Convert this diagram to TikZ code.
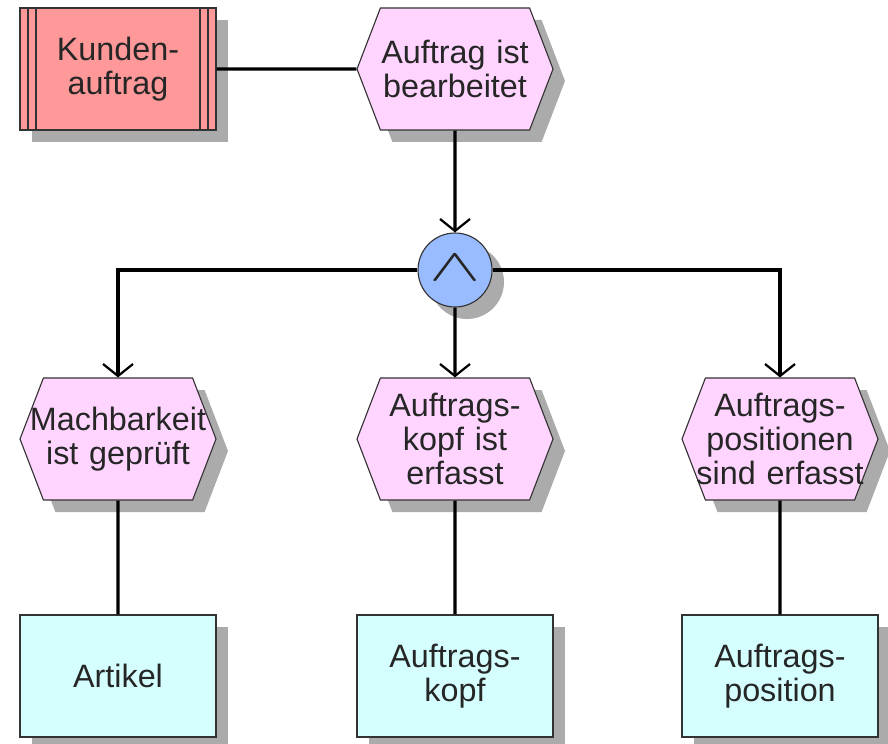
\documentclass[tikz,border=0pt]{standalone}
\usepackage{fontspec}
\setmainfont{Liberation Sans}
\usetikzlibrary{arrows.meta,shapes.symbols,shadows}

\definecolor{orderred}{HTML}{FF9999}
\definecolor{eventpink}{HTML}{FFD5FF}
\definecolor{andblue}{HTML}{99BBFF}
\definecolor{objcyan}{HTML}{D5FFFF}

\begin{document}
\begin{tikzpicture}[
        eshadow/.style={
            drop shadow={shadow xshift=0.3cm, shadow yshift=-0.3cm,
                fill=black!33, opacity=1}
        },
        event/.style={
            signal,
            signal to=west and east,
            signal pointer angle=138,
            draw=black!80,
            line width=0.8pt,
            fill=eventpink,
            minimum width=4.9cm,
            minimum height=3.05cm,
            inner sep=0pt,
            text width=3.7cm,
            align=center,
            % long lines may run into the pointers, as in the original
            execute at begin node={\leftskip=-0.6cm plus 1fil\rightskip=-0.6cm plus 1fil},
            text=black!85,
            font=\fontsize{23}{24.5}\selectfont,
            eshadow
        },
        object/.style={
            draw=black!80,
            line width=0.8pt,
            fill=objcyan,
            minimum width=4.9cm,
            minimum height=3.05cm,
            align=center,
            text=black!85,
            font=\fontsize{23}{24.5}\selectfont,
            eshadow
        },
        process/.style={
            object,
            fill=orderred,
            path picture={
                \draw[black!80, line width=0.8pt]
                    ([xshift=0.2cm]path picture bounding box.north west) -- ([xshift=0.2cm]path picture bounding box.south west)
                    ([xshift=0.4cm]path picture bounding box.north west) -- ([xshift=0.4cm]path picture bounding box.south west)
                    ([xshift=-0.2cm]path picture bounding box.north east) -- ([xshift=-0.2cm]path picture bounding box.south east)
                    ([xshift=-0.4cm]path picture bounding box.north east) -- ([xshift=-0.4cm]path picture bounding box.south east);
            }
        },
        andop/.style={
            circle,
            draw=black!80,
            line width=0.8pt,
            fill=andblue,
            minimum size=1.85cm,
            inner sep=0pt,
            text=black!85,
            font=\Huge,
            eshadow
        },
        line/.style={line width=2.4pt},
        arrow/.style={line, -{Straight Barb[length=0.3cm, width=0.75cm, line width=1.6pt]}}
    ]

    \useasboundingbox (0,0) rectangle (22.2,18.575);

    % =========================
    % Start
    % =========================
    \node[process] (kunde) at (2.95,16.85) {Kunden-\\auftrag};
    \node[event]   (done)  at (11.375,16.85) {Auftrag ist\\bearbeitet};

    \draw[line] (kunde) -- (done);

    % =========================
    % AND split
    % =========================
    \node[andop] (and) at (11.375,11.825) {\raisebox{0.12cm}{\scalebox{2.2}[1.3]{$\wedge$}}};

    \draw[arrow] (done) -- (and);

    % =========================
    % Events
    % =========================
    \node[event] (check) at (2.95,7.6)   {Machbarkeit\\ist geprüft};
    \node[event] (head)  at (11.375,7.6) {Auftrags-\\kopf ist\\erfasst};
    \node[event] (pos)   at (19.5,7.6)   {Auftrags-\\positionen\\sind erfasst};

    \draw[arrow] (and) -| (check);
    \draw[arrow] (and) -- (head);
    \draw[arrow] (and) -| (pos);

    % =========================
    % Objects
    % =========================
    \node[object] (art)   at (2.95,1.675)   {Artikel};
    \node[object] (ahead) at (11.375,1.675) {Auftrags-\\kopf};
    \node[object] (apos)  at (19.5,1.675)   {Auftrags-\\position};

    \draw[line] (check) -- (art);
    \draw[line] (head) -- (ahead);
    \draw[line] (pos) -- (apos);

\end{tikzpicture}
\end{document}
